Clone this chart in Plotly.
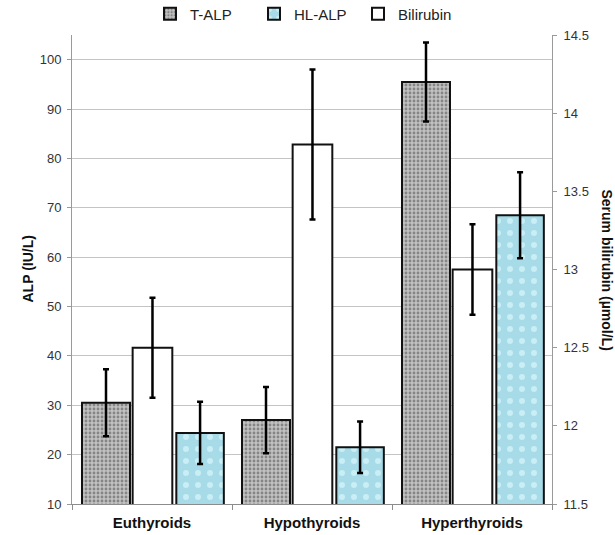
import plotly.graph_objects as go

categories = ["Euthyroids", "Hypothyroids", "Hyperthyroids"]
t_alp = [30.5, 27.0, 95.5]
t_alp_err = [6.8, 6.7, 8.0]
hl_alp = [24.4, 21.5, 68.5]
hl_alp_err = [6.3, 5.2, 8.7]
bilirubin = [12.50, 13.80, 13.00]
bilirubin_err = [0.32, 0.48, 0.29]

left_ticks = list(range(10, 101, 10))
right_ticks = [11.5, 12, 12.5, 13, 13.5, 14, 14.5]

FONT = "Liberation Sans, Arial, sans-serif"
err_style = dict(type="data", color="black", thickness=2.5, width=3, visible=True)

fig = go.Figure()
fig.add_trace(go.Bar(
    name="T-ALP", x=categories, y=t_alp, yaxis="y",
    offset=-0.4375, width=0.30,
    marker=dict(color="#adadad", line=dict(color="#111111", width=2),
                pattern=dict(shape=".", bgcolor="#c2c2c2", fgcolor="#858585",
                             size=4, solidity=0.4, fillmode="replace")),
    error_y=dict(array=t_alp_err, **err_style),
))
fig.add_trace(go.Bar(
    name="HL-ALP", x=categories, y=hl_alp, yaxis="y",
    offset=0.152, width=0.297,
    marker=dict(color="#a8dde8", line=dict(color="#111111", width=2),
                pattern=dict(shape=".", bgcolor="#a6dbe7", fgcolor="#c9eef5",
                             size=12, solidity=0.2, fillmode="replace")),
    error_y=dict(array=hl_alp_err, **err_style),
))
fig.add_trace(go.Bar(
    name="Bilirubin", x=categories, y=bilirubin, yaxis="y2",
    offset=-0.121, width=0.248,
    marker=dict(color="white", line=dict(color="#111111", width=2)),
    error_y=dict(array=bilirubin_err, **err_style),
))

fig.update_layout(
    width=615, height=535,
    margin=dict(l=72, r=63, t=35, b=31, autoexpand=False),
    paper_bgcolor="white", plot_bgcolor="white",
    barmode="overlay",
    font=dict(family=FONT, size=13, color="#222222"),
    showlegend=True,
    legend=dict(orientation="h", x=0.4976, xanchor="center", xref="container",
                y=1 - 14 / 535, yanchor="middle", yref="container",
                font=dict(size=15, color="#222222"), itemwidth=30,
                entrywidth=59, entrywidthmode="pixels",
                traceorder="normal", bgcolor="rgba(0,0,0,0)"),
    xaxis=dict(type="category", showgrid=False, showline=True, linecolor="#8c8c8c",
               linewidth=1, ticks="outside", tickson="boundaries", ticklen=5,
               tickcolor="#8c8c8c", ticklabelstandoff=5,
               tickfont=dict(size=15, family="Liberation Sans, Arial", color="#111111",
                             weight="bold")),
    yaxis=dict(range=[10, 105], tickvals=left_ticks, showgrid=True, gridcolor="#c4c4c4",
               gridwidth=1, showline=True, linecolor="#9a9a9a", ticks="outside",
               ticklen=4, tickcolor="#9a9a9a", zeroline=False, ticklabelstandoff=3,
               tickfont=dict(size=13, color="#333333")),
    yaxis2=dict(range=[11.5, 14.5], tickvals=right_ticks, overlaying="y", side="right",
                showgrid=False, showline=True, linecolor="#9a9a9a", ticks="outside",
                ticklen=4, tickcolor="#9a9a9a", zeroline=False, ticklabelstandoff=4,
                tickfont=dict(size=13, color="#333333")),
    annotations=[
        dict(text="<b>ALP (IU/L)</b>", xref="paper", yref="paper",
             x=(27 - 72) / 480, y=0.5, xanchor="center", yanchor="middle",
             textangle=-90, showarrow=False,
             font=dict(size=14, color="#111111")),
        dict(text="<b>Serum bilirubin (µmol/L)</b>", xref="paper", yref="paper",
             x=(607 - 72) / 480, y=0.5, xanchor="center", yanchor="middle",
             textangle=90, showarrow=False,
             font=dict(size=14, color="#111111")),
    ],
)

fig.write_html("out.html", config={"displayModeBar": False},
               post_script="document.body.style.margin='0';")
